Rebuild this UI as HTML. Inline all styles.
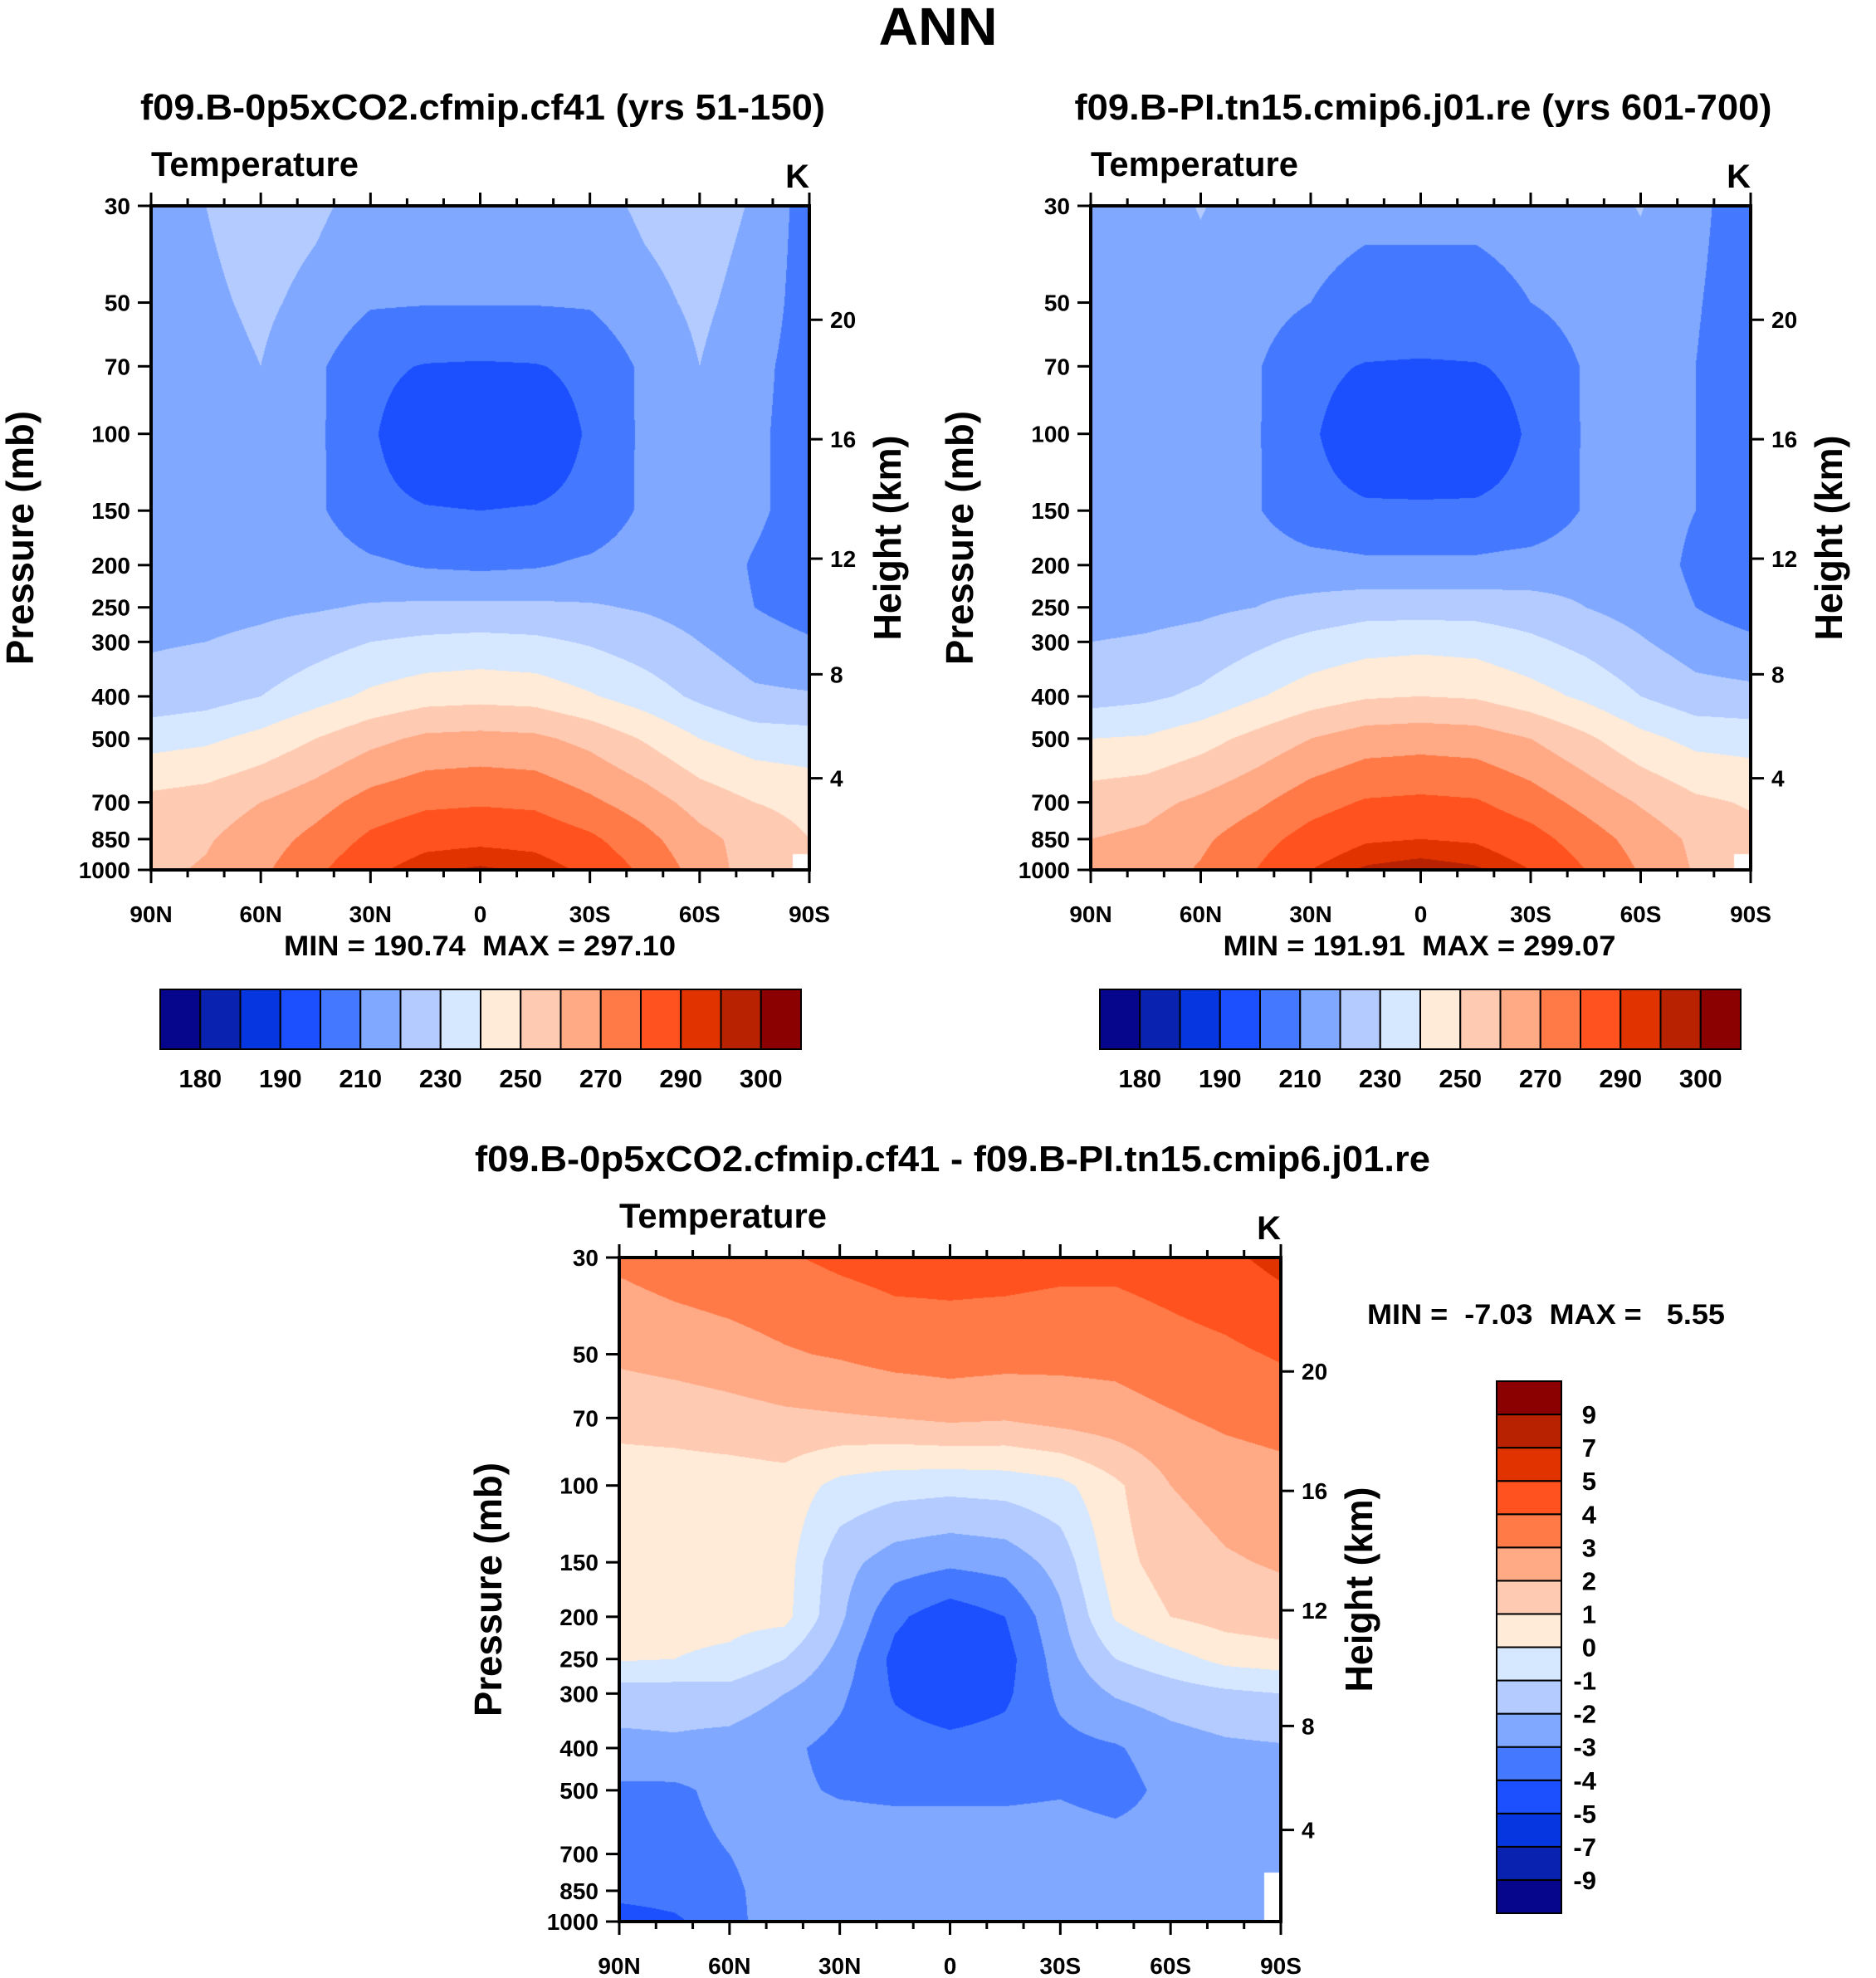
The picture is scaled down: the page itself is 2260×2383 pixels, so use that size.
<!DOCTYPE html>
<html><head><meta charset="utf-8">
<style>
html,body{margin:0;padding:0;background:#fff;}
#root{position:relative;width:2260px;height:2383px;overflow:hidden;font-family:"Liberation Sans",Arial,sans-serif;}
canvas{position:absolute;}
svg{position:absolute;left:0;top:0;}
svg text{font-family:"Liberation Sans",Arial,sans-serif;font-weight:bold;fill:#000;white-space:pre;}
</style></head>
<body>
<div id="root">
<canvas id="c1"></canvas>
<canvas id="c2"></canvas>
<canvas id="c3"></canvas>
<svg id="s" width="2260" height="2383"></svg>
</div>
<script>
const LAT=[90,75,60,45,30,15,0,-15,-30,-45,-60,-75,-90];
const LEV=[30,50,70,100,150,200,250,300,400,500,700,850,1000];
const T1=[
[214,220,225,222,216,215,215,215,216,222,225,219,205],
[213,218,222,217,211,210.5,210.5,210.5,211,217,222,216,205],
[213,216,220,212,202,199.5,199,199.5,202,212,220,213,205],
[213,215,216,212,201,194,193,194,201,212,215,212,205],
[214,215,215,212,202,200.5,200,200.5,202,212,215,212,205],
[215,216,216,216,212,209,208,209,212,216,216,209,204],
[216,217,218,219,221,222,222,222,221,219,216,210,206],
[219,220,222,226,230,232,233,232,229,225,220,214,211],
[224,226,230,236,242,246,247,246,241,235,228,222,221],
[236,238,243,250,257,262,263,262,257,249,240,235,234],
[253,255,260,266,274,278,279,278,272,265,256,250,247],
[256,259,265,273,282,287,288,287,282,273,263,256,250],
[258,261,268,278,288,294,296,294,288,278,266,255,null]];
const T2=[
[212,216,220.5,216,213,212,212,212,213,216,220.5,213,203],
[212,215,217,214,210,207,207,207,210,214,216,211,203],
[212,214,216,211,202,199.5,199,199.5,202,211,215,210,202],
[213,215,216,211,201,195,194,195,201,211,213,210,202],
[214,215,215,211,202,201,201,201,202,211,214,210,203],
[215,216,216,216,214,212,212,212,214,216,215,208,202],
[216,217,218,220,223,226,226,226,224,220,216,210,205],
[220,221,223,228,233,236,237,236,232,227,221,215,212],
[226,228,232,239,245,249,250,249,244,238,230,224,223],
[240,241,246,253,260,265,266,265,260,252,243,237,236],
[255,257,262,268,276,281,282,281,275,267,259,252,249],
[260,262,268,276,284,289,290,289,284,275,266,258,253],
[263,265,271,280,290,296,298,296,290,280,269,259,null]];
const D=[
[3.2,3.5,3.7,3.9,4.2,4.4,4.4,4.4,4.3,4.3,4.5,4.8,5.3],
[2.2,2.4,2.6,2.9,3.1,3.4,3.5,3.4,3.3,3.3,3.6,3.8,4.1],
[1.3,1.4,1.6,1.8,1.9,2.0,2.2,2.1,2.4,2.6,2.9,3.2,3.4],
[0.5,0.5,0.5,0.6,-0.3,-0.6,-0.7,-0.6,-0.3,0.8,2.0,2.4,2.6],
[0.4,0.3,0.3,0.4,-1.6,-2.5,-2.8,-2.6,-1.6,0.6,1.5,1.9,2.1],
[0.4,0.3,0.3,0.3,-1.8,-3.8,-4.6,-4.0,-2.2,0.1,1.0,1.4,1.6],
[0.1,0.0,-0.2,-1.0,-2.4,-4.3,-4.7,-4.4,-2.5,-1.0,-0.4,0.3,0.5],
[-1.5,-1.5,-1.4,-2.0,-2.8,-4.1,-4.6,-4.2,-2.8,-1.9,-1.5,-1.2,-1.0],
[-2.3,-2.2,-2.4,-2.8,-3.3,-3.6,-3.7,-3.6,-3.3,-3.1,-2.5,-2.2,-2.1],
[-3.2,-3.2,-2.7,-2.8,-3.1,-3.2,-3.2,-3.2,-3.1,-3.4,-2.7,-2.4,-2.3],
[-3.4,-3.3,-3.0,-2.5,-2.4,-2.4,-2.4,-2.4,-2.4,-2.5,-2.6,-2.4,-2.4],
[-3.6,-3.5,-3.2,-2.5,-2.3,-2.3,-2.3,-2.3,-2.3,-2.4,-2.6,-2.4,null],
[-4.6,-4.2,-3.3,-2.4,-2.2,-2.1,-2.1,-2.1,-2.2,-2.4,-3.0,-2.5,null]];
const BINS_T=[180,185,190,200,210,220,230,240,250,260,270,280,290,295,300];
const BINS_D=[-9,-7,-5,-4,-3,-2,-1,0,1,2,3,4,5,7,9];
const COLORS=["#06068c","#0a22b0","#0636e0","#1c50ff","#4479ff","#80a8ff","#b3cbff","#d6e8ff","#ffebd8","#ffcab2","#ffa985","#ff7a47","#ff521e","#e03300","#b82200","#8b0000"];
const TLABELS=["180","190","210","230","250","270","290","300"];
const DLABELS=["-9","-7","-5","-4","-3","-2","-1","0","1","2","3","4","5","7","9"];
const PTICKS=[30,50,70,100,150,200,250,300,400,500,700,850,1000];
const KMTICKS=[4,8,12,16,20];
const XTICKS=[90,60,30,0,-30,-60,-90];
const XLABELS=["90N","60N","30N","0","30S","60S","90S"];

const NS="http://www.w3.org/2000/svg";
const svg=document.getElementById('s');
function hex(h){return [parseInt(h.substr(1,2),16),parseInt(h.substr(3,2),16),parseInt(h.substr(5,2),16)];}
const RGB=COLORS.map(hex);
function binIdx(v,bins){let i=0;while(i<bins.length&&v>=bins[i])i++;return i;}
function pFromKm(h){h*=1000;if(h<11000)return 1013.25*Math.pow(1-2.25577e-5*h,5.25588);return 226.32*Math.exp(-(h-11000)/6341.62);}
function mk(tag,attrs){const e=document.createElementNS(NS,tag);for(const k in attrs)e.setAttribute(k,attrs[k]);svg.appendChild(e);return e;}
function txt(x,y,s,size,anchor,name,tl){const e=mk('text',{x:x,y:y,'font-size':size,'text-anchor':anchor||'start'});e.textContent=s;
if(tl){e.setAttribute('textLength',tl);e.setAttribute('lengthAdjust','spacingAndGlyphs');}


return e;}
function line(x1,y1,x2,y2,w,name){const e=mk('line',{x1:x1,y1:y1,x2:x2,y2:y2,stroke:'#000','stroke-width':w});


return e;}

function panel(id,data,bins,g,title,titleLen,minmax,mmPos){
  const W=g.x1-g.x0,H=g.y1-g.y0;
  const cv=document.getElementById(id);
  cv.width=W;cv.height=H;cv.style.left=g.x0+'px';cv.style.top=g.y0+'px';
  const ctx=cv.getContext('2d');const img=ctx.createImageData(W,H);
  const lp0=Math.log(30),lp1=Math.log(1000);
  const llev=LEV.map(Math.log);
  for(let py=0;py<H;py++){
    const lp=lp0+(py+0.5)/H*(lp1-lp0);
    let j=0;while(j<LEV.length-2&&lp>llev[j+1])j++;
    const fy=Math.min(1,Math.max(0,(lp-llev[j])/(llev[j+1]-llev[j])));
    for(let px=0;px<W;px++){
      const fx0=(px+0.5)/W*(LAT.length-1);
      let i=Math.min(LAT.length-2,Math.floor(fx0));const fx=fx0-i;
      const c=[[data[j][i],(1-fx)*(1-fy)],[data[j][i+1],fx*(1-fy)],[data[j+1][i],(1-fx)*fy],[data[j+1][i+1],fx*fy]];
      const near=data[j+(fy>0.5?1:0)][i+(fx>0.7?1:0)];
      let o=(py*W+px)*4;
      if(near===null){img.data[o]=255;img.data[o+1]=255;img.data[o+2]=255;img.data[o+3]=255;continue;}
      let s=0,ws=0;for(const [v,w] of c){if(v!==null){s+=v*w;ws+=w;}}
      const col=RGB[binIdx(s/ws,bins)];
      img.data[o]=col[0];img.data[o+1]=col[1];img.data[o+2]=col[2];img.data[o+3]=255;
    }
  }
  ctx.putImageData(img,0,0);
  const yOf=p=>g.y0+(Math.log(p)-lp0)/(lp1-lp0)*H;
  const xOf=lat=>g.x0+(90-lat)/180*W;
  const fr=mk('rect',{x:g.x0,y:g.y0,width:W,height:H,fill:'none',stroke:'#000','stroke-width':4});
  
  
  for(let lat=90;lat>=-90;lat-=10){
    const major=lat%30===0;const L=major?16:9;const x=xOf(lat);
    line(x,g.y0,x,g.y0-L,3,'top-x-tick');
    line(x,g.y1,x,g.y1+L,3,'bottom-x-tick');
  }
  XTICKS.forEach((lat,k)=>txt(xOf(lat),g.y1+63,XLABELS[k],28,'middle','x-tick-label'));
  PTICKS.forEach(p=>{const y=yOf(p);line(g.x0,y,g.x0-16,y,3,'pressure-tick');txt(g.x0-25,y+10,String(p),28,'end','pressure-tick-label');});
  KMTICKS.forEach(k=>{const y=yOf(pFromKm(k));line(g.x1,y,g.x1+16,y,3,'height-tick');txt(g.x1+25,y+10,String(k),28,'start','height-tick-label');});
  txt(g.x0,g.y0-36,'Temperature',42,'start','variable-label',250);
  txt(g.x1,g.y0-22,'K',40,'end','units-label');
  txt((g.x0+g.x1)/2+3,g.y0-104,title,44,'middle','panel-title',titleLen);
  const pl=txt(0,0,'Pressure (mb)',46,'middle','y-axis-title',306);
  pl.setAttribute('transform','translate('+(g.x0-142)+','+((g.y0+g.y1)/2)+') rotate(-90)');
  const hl=txt(0,0,'Height (km)',46,'middle','right-axis-title',247);
  hl.setAttribute('transform','translate('+(g.x1+110)+','+((g.y0+g.y1)/2)+') rotate(-90)');
  txt(mmPos[0],mmPos[1],minmax,34,mmPos[2],'min-max-label',mmPos[3]);
}
function hbar(x0,y0,w,h){
  const bw=w/16;
  COLORS.forEach((c,k)=>{const r=mk('rect',{x:x0+k*bw,y:y0,width:bw,height:h,fill:c,stroke:'#000','stroke-width':2});
  
  });
  TLABELS.forEach((s,k)=>txt(x0+(2*k+1)*bw,y0+h+46,s,31,'middle','colorbar-label'));
}
function vbar(x0,y0,w,h){
  const bh=h/16;
  COLORS.forEach((c,k)=>{const r=mk('rect',{x:x0,y:y0+(15-k)*bh,width:w,height:bh,fill:c,stroke:'#000','stroke-width':2});
  
  });
  DLABELS.forEach((s,k)=>txt(x0+w+42,y0+(15-k-1)*bh+bh+11,s,31,'end','colorbar-label'));
}
const G1={x0:182,x1:975,y0:248,y1:1048},G2={x0:1314,x1:2109,y0:248,y1:1048},G3={x0:746,x1:1543,y0:1515,y1:2315};
txt(1130,54,'ANN',64,'middle','figure-title',143);
panel('c1',T1,BINS_T,G1,'f09.B-0p5xCO2.cfmip.cf41 (yrs 51-150)',825,'MIN = 190.74  MAX = 297.10',[578,1151,'middle',472]);
panel('c2',T2,BINS_T,G2,'f09.B-PI.tn15.cmip6.j01.re (yrs 601-700)',840,'MIN = 191.91  MAX = 299.07',[1710,1151,'middle',473]);
panel('c3',D,BINS_D,G3,'f09.B-0p5xCO2.cfmip.cf41 - f09.B-PI.tn15.cmip6.j01.re',1151,'MIN =  -7.03  MAX =   5.55',[1647,1595,'start',431]);
hbar(193,1192,772,72);
hbar(1325,1192,772,72);
vbar(1803,1664,78,641);
</script>
</body></html>
